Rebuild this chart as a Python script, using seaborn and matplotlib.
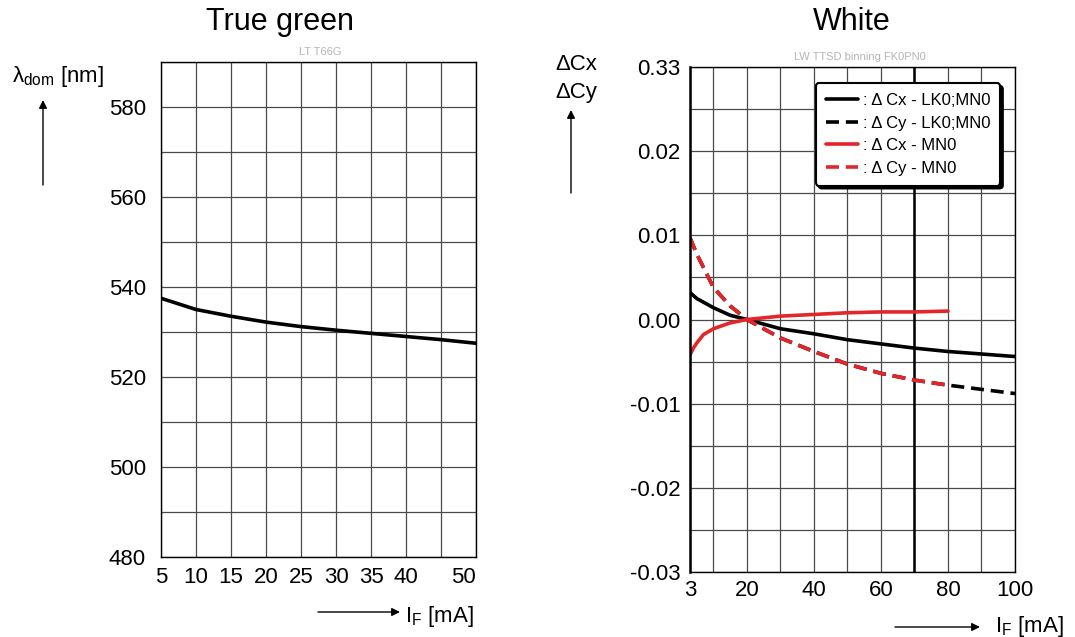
import matplotlib
matplotlib.use("Agg")
import matplotlib.pyplot as plt
import seaborn as sns
import numpy as np

# left chart: true green, dominant wavelength vs forward current
green_if = [5, 10, 15, 20, 25, 30, 35, 40, 45, 50]
green_wl = [537.5, 535.0, 533.5, 532.2, 531.2, 530.4, 529.7, 529.0, 528.3, 527.5]
green_xticks = [5, 10, 15, 20, 25, 30, 35, 40, 45, 50]
green_xlabels = ['5', '10', '15', '20', '25', '30', '35', '40', '', '50']
green_yticks = [480, 490, 500, 510, 520, 530, 540, 550, 560, 570, 580, 590]
green_ylabels = ['480', '', '500', '', '520', '', '540', '', '560', '', '580', '']

# right chart: white, colour shift vs forward current
white_if = [3, 5, 10, 15, 20, 30, 40, 50, 60, 70, 80, 90, 100]
dcx_lk = [0.0032, 0.0025, 0.0014, 0.0005, 0.0, -0.0011, -0.0017, -0.0024, -0.0029, -0.0034, -0.0038, -0.0041, -0.0044]
dcy_lk = [0.0097, 0.0078, 0.0038, 0.0016, 0.0, -0.0022, -0.0038, -0.0053, -0.0064, -0.0072, -0.0078, -0.0083, -0.0088]
white_if_cy = [3, 5, 10, 15, 20, 30, 40, 50, 60, 70, 80]
dcy_mn = [0.0097, 0.0078, 0.0038, 0.0016, 0.0, -0.0022, -0.0038, -0.0053, -0.0064, -0.0072, -0.0078]
white_if_cx = [3, 4, 5, 7, 10, 15, 20, 30, 40, 50, 60, 70, 80]
dcx_mn = [-0.0042, -0.0034, -0.0028, -0.0018, -0.0011, -0.0004, 0.0, 0.0004, 0.0006, 0.0008, 0.0009, 0.0009, 0.001]
white_xticks = [3, 10, 20, 30, 40, 50, 60, 70, 80, 90, 100]
white_xlabels = ['3', '', '20', '', '40', '', '60', '', '80', '', '100']
white_yticks = [-0.03, -0.025, -0.02, -0.015, -0.01, -0.005, 0.0, 0.005, 0.01, 0.015, 0.02, 0.025, 0.03]
white_ylabels = ['-0.03', '', '-0.02', '', '-0.01', '', '0.00', '', '0.01', '', '0.02', '', '0.33']

sns.set_style("white")
plt.rcParams['font.family'] = ['Liberation Sans', 'DejaVu Sans']
plt.rcParams['mathtext.fontset'] = 'custom'
plt.rcParams['mathtext.rm'] = 'Liberation Sans'
plt.rcParams['text.color'] = 'black'
plt.rcParams['xtick.color'] = 'black'
plt.rcParams['ytick.color'] = 'black'

W, H = 1075, 637
fig = plt.figure(figsize=(W / 100, H / 100), dpi=100)

def px(x, y):
    return x / W, 1 - y / H

red = '#e3262a'
grid_c = '#4a4a4a'
dash = (0, (3.6, 1.9))

# ---- left ----
ax1 = fig.add_axes([161 / W, 1 - 557 / H, 315 / W, 495 / H])
sns.lineplot(x=green_if, y=green_wl, ax=ax1, color='black', lw=2.6)
ax1.set_xlim(5, 50)
ax1.set_ylim(480, 590)
ax1.set_xticks(green_xticks)
ax1.set_xticklabels(green_xlabels)
ax1.get_xticklabels()[-1].set_horizontalalignment('right')
ax1.set_yticks(green_yticks)
ax1.set_yticklabels(green_ylabels)
ax1.tick_params(axis='both', length=0, labelsize=16)
ax1.tick_params(axis='y', pad=11)
ax1.tick_params(axis='x', pad=7)
ax1.grid(True, color=grid_c, lw=0.9)
for s in ax1.spines.values():
    s.set_color('black')
    s.set_linewidth(1.0)
ax1.set_xlabel('')
ax1.set_ylabel('')

# ---- right ----
ax2 = fig.add_axes([690 / W, 1 - 572 / H, 325 / W, 505 / H])
sns.lineplot(x=white_if, y=dcy_lk, ax=ax2, color='black', lw=2.6, linestyle=dash, label=': Δ Cy - LK0;MN0')
sns.lineplot(x=white_if, y=dcx_lk, ax=ax2, color='black', lw=2.6, label=': Δ Cx - LK0;MN0')
sns.lineplot(x=white_if_cy, y=dcy_mn, ax=ax2, color=red, lw=2.6, linestyle=dash, label=': Δ Cy - MN0')
sns.lineplot(x=white_if_cx, y=dcx_mn, ax=ax2, color=red, lw=2.6, label=': Δ Cx - MN0')
ax2.axvline(70, color='black', lw=1.8, zorder=1)
ax2.set_xlim(3, 100)
ax2.set_ylim(-0.03, 0.03)
ax2.set_xticks(white_xticks)
ax2.set_xticklabels(white_xlabels)
ax2.set_yticks(white_yticks)
ax2.set_yticklabels(white_ylabels)
ax2.tick_params(axis='both', length=0, labelsize=16)
ax2.tick_params(axis='y', pad=7)
ax2.tick_params(axis='x', pad=6)
ax2.grid(True, color=grid_c, lw=0.9)
for s in ax2.spines.values():
    s.set_color('black')
    s.set_linewidth(1.0)
ax2.spines['left'].set_linewidth(1.8)
ax2.set_xlabel('')
ax2.set_ylabel('')

h, l = ax2.get_legend_handles_labels()
order = [1, 0, 3, 2]
leg = ax2.legend([h[i] for i in order], [l[i] for i in order], loc='upper right',
                 bbox_to_anchor=(0.954, 0.968), borderaxespad=0, fontsize=12, frameon=True,
                 fancybox=True, shadow={'color': 'black', 'alpha': 1}, handlelength=1.9,
                 handletextpad=0.3, labelspacing=0.45, borderpad=0.6, framealpha=1)
leg.get_frame().set_edgecolor('black')
leg.get_frame().set_linewidth(1.5)

# titles and small annotations
fig.text(*px(280, 22), 'True green', fontsize=22, ha='center', va='center')
fig.text(*px(852, 22), 'White', fontsize=22, ha='center', va='center')
fig.text(*px(320, 52), 'LT T66G', fontsize=8, color='#b5b5b5', ha='center', va='center')
fig.text(*px(860, 57), 'LW TTSD binning FK0PN0', fontsize=8, color='#b5b5b5', ha='center', va='center')

# axis labels with arrows
fig.text(*px(12, 82), r'λ$_{\mathrm{dom}}$ [nm]', fontsize=16, ha='left', va='baseline')
fig.text(*px(555, 70), 'ΔCx', fontsize=16, ha='left', va='baseline')
fig.text(*px(555, 98), 'ΔCy', fontsize=16, ha='left', va='baseline')
fig.text(*px(405, 622), r'I$_{\mathrm{F}}$ [mA]', fontsize=16, ha='left', va='baseline')
fig.text(*px(995, 632), r'I$_{\mathrm{F}}$ [mA]', fontsize=16, ha='left', va='baseline')

arrow = dict(arrowstyle='-|>', color='black', lw=1.0, mutation_scale=12, shrinkA=0, shrinkB=0)
for (x0, y0, x1, y1) in [(43, 185, 43, 100), (571, 193, 571, 110), (318, 612, 400, 612), (895, 627, 980, 627)]:
    fig.add_artist(matplotlib.patches.FancyArrowPatch(px(x0, y0), px(x1, y1), transform=fig.transFigure, **arrow))

fig.savefig('out.png', dpi=100)
